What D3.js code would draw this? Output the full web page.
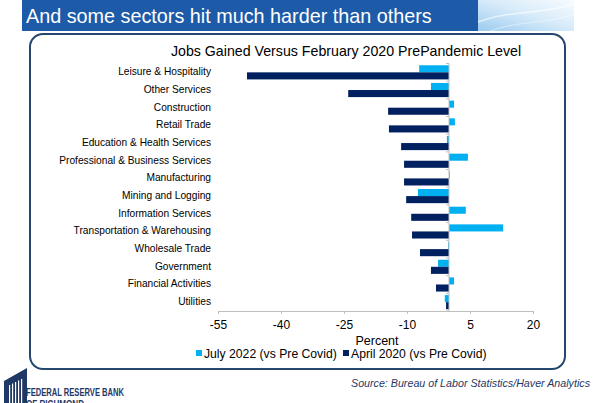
<!DOCTYPE html>
<html>
<head>
<meta charset="utf-8">
<script src="https://cdn.jsdelivr.net/npm/d3@7"></script>
<style>
  body { margin: 0; background: #fff; }
  svg { display: block; font-family: "Liberation Sans", Arial, sans-serif; }
</style>
</head>
<body>
<svg id="chart" width="600" height="403"></svg>
<script>
// Data
const sectors = [
    "Leisure & Hospitality", "Other Services", "Construction", "Retail Trade",
    "Education & Health Services", "Professional & Business Services", "Manufacturing",
    "Mining and Logging", "Information Services", "Transportation & Warehousing",
    "Wholesale Trade", "Government", "Financial Activities", "Utilities"
]
const july2022 = [-7.1, -4.3, 1.2, 1.4, -0.5, 4.5, 0.2, -7.4, 4.0, 12.9, -0.2, -2.6, 1.2, -1.0]
const april2020 = [-48.1, -24.0, -14.5, -14.3, -11.4, -10.7, -10.7, -10.2, -9.0, -8.8, -6.9, -4.3, -3.1, -0.7]
const xTicks = [-55, -40, -25, -10, 5, 20]
const seriesNames = ["July 2022 (vs Pre Covid)", "April 2020 (vs Pre Covid)"]
const seriesColors = ["#00b0f0", "#002060"]

const svg = d3.select("#chart")

// header banner
const defs = svg.append("defs")
const sky = defs.append("linearGradient")
    .attr("id", "sky")
    .attr("x1", "0%").attr("y1", "100%")
    .attr("x2", "100%").attr("y2", "0%")
sky.append("stop").attr("offset", "0%").attr("stop-color", "#9ccbef")
sky.append("stop").attr("offset", "55%").attr("stop-color", "#d9ecfa")
sky.append("stop").attr("offset", "100%").attr("stop-color", "#f7fbfe")

svg.append("rect")
    .attr("x", 22).attr("y", 0)
    .attr("width", 456).attr("height", 31)
    .attr("fill", "#1d5ba8")
svg.append("rect")
    .attr("x", 478).attr("y", 0)
    .attr("width", 96).attr("height", 31)
    .attr("fill", "url(#sky)")
// faint swooshes in the banner picture
svg.append("path")
    .attr("d", "M478,22 C510,10 545,14 574,4")
    .attr("fill", "none").attr("stroke", "#ffffff").attr("stroke-opacity", 0.6).attr("stroke-width", 1.5)
svg.append("path")
    .attr("d", "M490,31 C520,20 550,24 574,14")
    .attr("fill", "none").attr("stroke", "#ffffff").attr("stroke-opacity", 0.45).attr("stroke-width", 1)

svg.append("text")
    .attr("x", 26).attr("y", 23)
    .attr("font-size", "19.8px")
    .attr("fill", "#ffffff")
    .text("And some sectors hit much harder than others")

// rounded frame
svg.append("rect")
    .attr("x", 30).attr("y", 34)
    .attr("width", 535).attr("height", 335)
    .attr("rx", 13).attr("ry", 13)
    .attr("fill", "none")
    .attr("stroke", "#24466f")
    .attr("stroke-width", 2)

svg.append("text")
    .attr("x", 346).attr("y", 56)
    .attr("text-anchor", "middle")
    .attr("font-size", "14.2px")
    .attr("fill", "#000")
    .text("Jobs Gained Versus February 2020 PrePandemic Level")

// scales
const x = d3.scaleLinear().domain([-55, 20]).range([218, 533])
const y = d3.scaleBand().domain(sectors).range([63.5, 311]).paddingInner(0.2).paddingOuter(0.1)
const sub = d3.scaleBand().domain([0, 1]).range([0, y.bandwidth()])

const rows = sectors.map((s, i) => ({ sector: s, values: [july2022[i], april2020[i]] }))

const groups = svg.selectAll(".row")
    .data(rows)
    .enter().append("g")
    .attr("class", "row")
    .attr("transform", d => `translate(0,${y(d.sector)})`)

groups.selectAll("rect")
    .data(d => d.values)
    .enter().append("rect")
    .attr("x", v => x(Math.min(0, v)))
    .attr("y", (_, j) => sub(j))
    .attr("width", v => Math.abs(x(v) - x(0)))
    .attr("height", sub.bandwidth())
    .attr("fill", (_, j) => seriesColors[j])

// category labels
svg.selectAll(".cat")
    .data(sectors)
    .enter().append("text")
    .attr("class", "cat")
    .attr("x", 211)
    .attr("y", d => y(d) + y.bandwidth() / 2 + 3)
    .attr("text-anchor", "end")
    .attr("font-size", "10.2px")
    .attr("fill", "#000")
    .text(d => d)

// zero line with small category ticks
svg.append("line")
    .attr("x1", x(0)).attr("x2", x(0))
    .attr("y1", 63.5).attr("y2", 311)
    .attr("stroke", "#bfbfbf").attr("stroke-width", 1)
const step = y.step()
svg.selectAll(".ztick")
    .data(d3.range(sectors.length + 1))
    .enter().append("line")
    .attr("class", "ztick")
    .attr("x1", x(0) - 3).attr("x2", x(0))
    .attr("y1", i => 63.5 + i * step)
    .attr("y2", i => 63.5 + i * step)
    .attr("stroke", "#bfbfbf")

// x axis
const xAxis = svg.append("g")
    .attr("transform", "translate(0,311)")
    .call(d3.axisBottom(x).tickValues(xTicks).tickFormat(d => String(d)).tickSize(3).tickSizeOuter(0).tickPadding(6))
xAxis.select(".domain").attr("stroke", "#bfbfbf")
xAxis.selectAll(".tick line").attr("stroke", "#bfbfbf")
xAxis.selectAll(".tick text")
    .attr("font-family", "Liberation Sans, Arial, sans-serif")
    .attr("font-size", "12px")
    .attr("fill", "#000")

svg.append("text")
    .attr("x", 377).attr("y", 345)
    .attr("text-anchor", "middle")
    .attr("font-size", "12.5px")
    .attr("fill", "#000")
    .text("Percent")

// legend
const legendX = [196, 343]
const legend = svg.selectAll(".leg")
    .data(seriesNames)
    .enter().append("g")
    .attr("class", "leg")
    .attr("transform", (_, i) => `translate(${legendX[i]},0)`)
legend.append("rect")
    .attr("x", 0).attr("y", 350)
    .attr("width", 6).attr("height", 6)
    .attr("fill", (_, i) => seriesColors[i])
legend.append("text")
    .attr("x", 8).attr("y", 357.5)
    .attr("font-size", "12.2px")
    .attr("fill", "#000")
    .text(d => d)

// source
svg.append("text")
    .attr("x", 590).attr("y", 387)
    .attr("text-anchor", "end")
    .attr("font-size", "10.7px")
    .attr("font-style", "italic")
    .attr("fill", "#1f3864")
    .text("Source: Bureau of Labor Statistics/Haver Analytics")

// bank logo
const logo = svg.append("g")
logo.append("path")
    .attr("d", "M4,381 L27,368 L27,403 L4,403 Z")
    .attr("fill", "#1f3864")
logo.selectAll(".col")
    .data(d3.range(5))
    .enter().append("rect")
    .attr("x", i => 9 + i * 3)
    .attr("y", i => 385 - i * 1.5)
    .attr("width", 1.2)
    .attr("height", 403)
    .attr("fill", "#ffffff")
logo.append("text")
    .attr("x", 26).attr("y", 396)
    .attr("textLength", 98)
    .attr("lengthAdjust", "spacingAndGlyphs")
    .attr("font-weight", "bold")
    .attr("font-size", "10px")
    .attr("fill", "#1f3864")
    .text("FEDERAL RESERVE BANK")
logo.append("text")
    .attr("x", 26).attr("y", 408)
    .attr("textLength", 58)
    .attr("lengthAdjust", "spacingAndGlyphs")
    .attr("font-weight", "bold")
    .attr("font-size", "10px")
    .attr("fill", "#1f3864")
    .text("OF RICHMOND")
</script>
</body>
</html>
